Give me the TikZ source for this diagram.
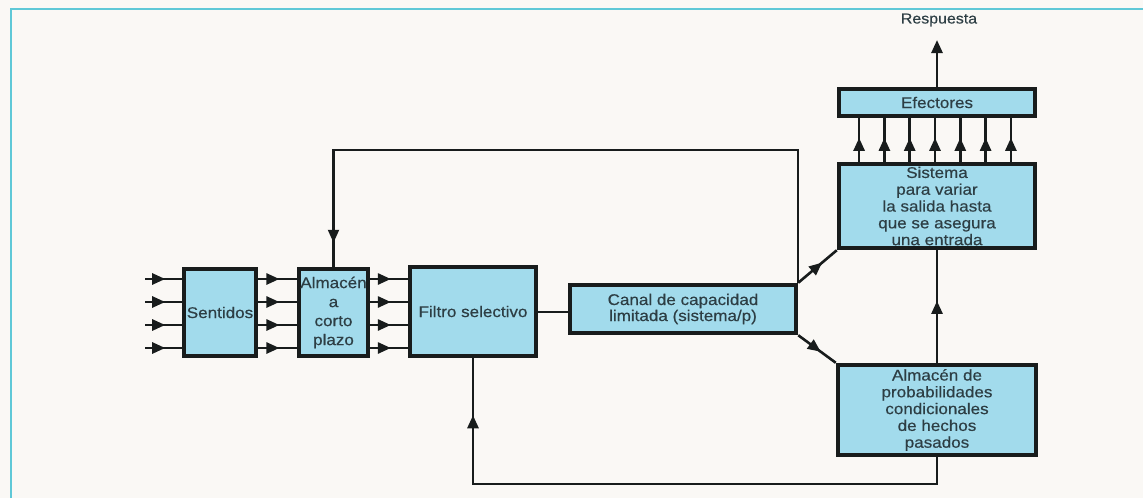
\documentclass[tikz,border=0pt]{standalone}
\usepackage{fontspec}
\newfontfamily\diagfont[FakeStretch=1.1,FakeBold=0.4]{Liberation Sans}
\usetikzlibrary{arrows.meta,decorations.markings}
\definecolor{bg}{RGB}{250,248,245}
\definecolor{boxfill}{RGB}{162,219,236}
\definecolor{edge}{RGB}{24,28,28}
\definecolor{txt}{RGB}{45,62,68}
\definecolor{frame}{RGB}{95,200,215}
\tikzset{
  blk/.style={draw=edge, line width=4.5pt, fill=boxfill, text=txt, align=center,
    inner sep=0pt, font=\diagfont\fontsize{15.5}{17}\selectfont},
  wire/.style={draw=edge, line width=2.6pt},
  thinwire/.style={draw=edge, line width=2.1pt},
  endarrow/.style={-{Triangle[length=13pt,width=11pt]}},
  midarrow/.style={postaction={decorate}, decoration={markings,
    mark=at position #1 with {\arrow{Triangle[length=13pt,width=11pt]}}}},
}
\begin{document}
\begin{tikzpicture}[x=1pt,y=-1pt]
\useasboundingbox (0,0) rectangle (1143,498);
\fill[bg] (0,0) rectangle (1143,498);
\draw[frame, line width=2pt] (11,498) -- (11,9) -- (1143,9);

% boxes
\node[blk, minimum width=72pt, minimum height=87pt] (sent) at (220,312.5) {Sentidos};
\node[blk, minimum width=69pt, minimum height=87pt,
  font=\diagfont\fontsize{15.5}{19}\selectfont] (alm) at (333.5,312.5) {Almacén\\a\\corto\\plazo};
\node[blk, minimum width=126pt, minimum height=89pt] (filt) at (473,311.5) {Filtro selectivo};
\node[blk, minimum width=226pt, minimum height=48pt,
  font=\diagfont\fontsize{15.5}{16}\selectfont] (canal) at (683,309) {Canal de capacidad\\limitada (sistema/p)};
\node[blk, minimum width=196pt, minimum height=27pt] (efec) at (937,102.5) {Efectores};
\node[blk, minimum width=196pt, minimum height=84pt,
  font=\diagfont\fontsize{15.5}{16.8}\selectfont] (sist) at (937,206) {Sistema\\para variar\\la salida hasta\\que se asegura\\una entrada};
\node[blk, minimum width=198pt, minimum height=90pt,
  font=\diagfont\fontsize{15.5}{16.8}\selectfont] (prob) at (937,410) {Almacén de\\probabilidades\\condicionales\\de hechos\\pasados};
\node[text=txt, font=\diagfont\fontsize{14.5}{16}\selectfont] (resp) at (939,20) {Respuesta};

% input and parallel arrows
\foreach \yy/\n in {279/1,302/2,325/3,348/4}{
  \coordinate (in\n) at (145,\yy);
  \draw[wire, midarrow=0.55] (in\n) -- (sent.west |- in\n);
  \draw[wire, midarrow=0.55] (sent.east |- in\n) -- (alm.west |- in\n);
  \draw[wire, midarrow=0.55] (alm.east |- in\n) -- (filt.west |- in\n);
}

% filter to channel
\coordinate (fc) at (540,312);
\draw[wire] (filt.east |- fc) -- (canal.west |- fc);

% top feedback loop
\coordinate (topy) at (0,150);
\draw[thinwire, midarrow=-24pt] (canal.north east) -- (canal.north east |- topy) -| (alm.north);

% diagonals
\draw[wire, midarrow=0.62] (canal.north east) -- (sist.south west);
\draw[wire, midarrow=0.6] (canal.south east) -- (prob.north west);

% store to system
\draw[wire, midarrow=0.55] (prob.north) -- (sist.south);

% bottom feedback loop
\coordinate (boty) at (0,484);
\draw[wire, midarrow=-57pt] (prob.south) -- (prob.south |- boty) -| (filt.south);

% system to effectors
\foreach \k in {-3,...,3}{
  \draw[wire, midarrow=0.55] ({935+25.3*\k},0 |- sist.north) -- ({935+25.3*\k},0 |- efec.south);
}

% response
\coordinate (rtip) at (937,40);
\draw[wire, endarrow] (efec.north) -- (rtip);
\end{tikzpicture}
\end{document}
